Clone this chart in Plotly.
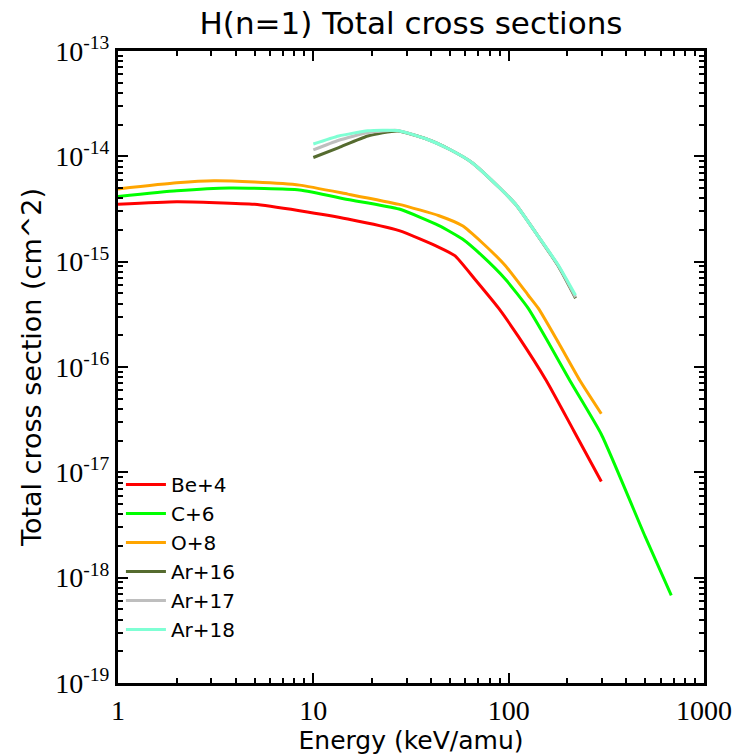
import plotly.graph_objects as go

# Energies (keV/amu) and total cross sections (cm^2)
E_be = [1, 2, 5, 8.5, 15, 27.5, 44, 53, 67, 89, 112, 156, 215, 298]
be4 = [3.5e-15, 3.7e-15, 3.5e-15, 3.04e-15, 2.54e-15, 1.97e-15, 1.37e-15,
       1.14e-15, 6.85e-16, 3.6e-16, 1.95e-16, 7.4e-17, 2.5e-17, 8.2e-18]

E_c = [1, 2, 3.7, 8.5, 15, 27.5, 44, 58, 73, 96, 126, 160, 206, 298, 500, 680]
c6 = [4.16e-15, 4.7e-15, 5.0e-15, 4.8e-15, 3.9e-15, 3.16e-15, 2.2e-15, 1.64e-15,
      1.14e-15, 6.85e-16, 3.6e-16, 1.7e-16, 7.4e-17, 2.3e-17, 2.45e-18, 6.8e-19]

E_o = [1, 2, 3.1, 5, 8.5, 15, 27.5, 44, 58, 73, 96, 126, 142, 180, 232, 298]
o8 = [4.9e-15, 5.6e-15, 5.86e-15, 5.7e-15, 5.33e-15, 4.38e-15, 3.5e-15, 2.73e-15,
      2.19e-15, 1.52e-15, 9.2e-16, 4.8e-16, 3.6e-16, 1.7e-16, 7.4e-17, 3.6e-17]

E_ar = [10, 13.5, 19, 27, 38, 50, 65, 90, 110, 140, 180, 220]
ar16 = [9.75e-15, 1.21e-14, 1.56e-14, 1.74e-14, 1.46e-14, 1.16e-14, 8.7e-15,
        5.0e-15, 3.4e-15, 1.8e-15, 9.0e-16, 4.5e-16]
ar17 = [1.15e-14, 1.42e-14, 1.68e-14, 1.76e-14, 1.46e-14, 1.16e-14, 8.7e-15,
        5.0e-15, 3.4e-15, 1.8e-15, 9.1e-16, 4.6e-16]
ar18 = [1.31e-14, 1.56e-14, 1.75e-14, 1.76e-14, 1.46e-14, 1.16e-14, 8.7e-15,
        5.0e-15, 3.4e-15, 1.8e-15, 9.2e-16, 4.8e-16]

series = [
    ("Be+4", E_be, be4, "#FF0000"),
    ("C+6", E_c, c6, "#00FF00"),
    ("O+8", E_o, o8, "#FFA500"),
    ("Ar+16", E_ar, ar16, "#556B2F"),
    ("Ar+17", E_ar, ar17, "#BEBEBE"),
    ("Ar+18", E_ar, ar18, "#7FFFD4"),
]

xtickvals = [1, 10, 100, 1000]
xticktext = ["1", "10", "100", "1000"]
ytickvals = [1e-13, 1e-14, 1e-15, 1e-16, 1e-17, 1e-18, 1e-19]
yticktext = ["10<sup>-13</sup>", "10<sup>-14</sup>", "10<sup>-15</sup>",
             "10<sup>-16</sup>", "10<sup>-17</sup>", "10<sup>-18</sup>",
             "10<sup>-19</sup>"]
minor_digits = [2, 3, 4, 5, 6, 7, 8, 9]
x_minor = [d * 10 ** k for k in range(0, 3) for d in minor_digits]
y_minor = [d * 10.0 ** k for k in range(-19, -13) for d in minor_digits]

fig = go.Figure()
for name, x, y, col in series:
    fig.add_trace(go.Scatter(x=x, y=y, mode="lines", name=name,
                             line=dict(color=col, width=3, shape="spline", smoothing=0.5)))

XR = [0, 3]
YR = [-19, -13]

base = dict(type="log", showline=True, linecolor="black", linewidth=3,
            mirror="allticks", ticks="inside", tickcolor="black", tickwidth=2,
            showgrid=False, zeroline=False, automargin=False)

fig.update_layout(
    xaxis=dict(**base, range=XR, tickmode="array", tickvals=xtickvals,
               ticktext=xticktext, ticklen=10,
               tickfont=dict(family="Liberation Serif", size=28, color="black"),
               title=dict(text="Energy (keV/amu)", standoff=2,
                          font=dict(family="DejaVu Sans", size=25, color="black"))),
    yaxis=dict(**base, range=YR, tickmode="array", tickvals=ytickvals,
               ticktext=yticktext, ticklen=10,
               tickfont=dict(family="Liberation Serif", size=28, color="black"),
               title=dict(text="Total cross section (cm^2)", standoff=6,
                          font=dict(family="DejaVu Sans", size=27, color="black"))),
    # overlay axes carrying the minor ticks
    xaxis2=dict(**base, range=XR, overlaying="x", anchor="y", side="bottom",
                tickmode="array", tickvals=x_minor, ticklen=5, showticklabels=False),
    yaxis2=dict(**base, range=YR, overlaying="y", anchor="x", side="left",
                tickmode="array", tickvals=y_minor, ticklen=5, showticklabels=False),
    width=739, height=756,
    margin=dict(l=118, r=35, t=51, b=73),
    paper_bgcolor="white", plot_bgcolor="white",
    title=dict(text="H(n=1) Total cross sections", xref="paper", x=0.5,
               xanchor="center", y=0.97, yanchor="middle",
               font=dict(family="DejaVu Sans", size=31, color="black")),
    legend=dict(x=0.005, y=0.345, xanchor="left", yanchor="top",
                bgcolor="rgba(0,0,0,0)", borderwidth=0,
                font=dict(family="DejaVu Sans", size=20, color="black"),
                tracegroupgap=0, itemwidth=40),
    showlegend=True,
)

# invisible helper trace so the minor-tick overlay axes are rendered
fig.add_trace(go.Scatter(x=[10], y=[1e-16], xaxis="x2", yaxis="y2", mode="markers",
                         marker=dict(opacity=0), showlegend=False, hoverinfo="skip"))

fig.write_html("out.html")
